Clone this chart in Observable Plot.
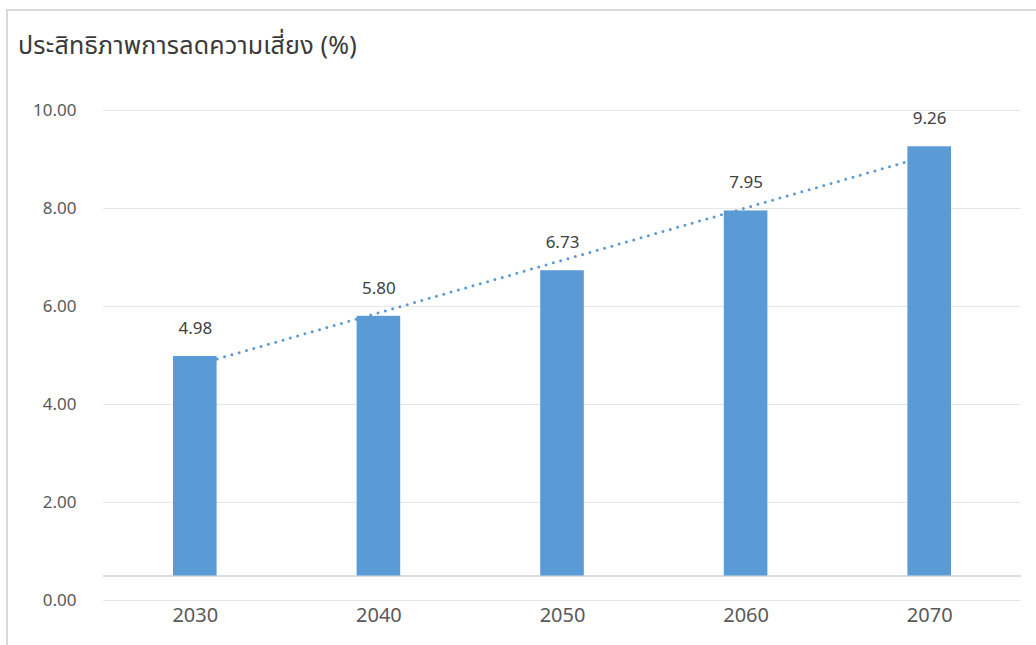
<!DOCTYPE html>
<html>
<head>
<meta charset="utf-8">
<script src="https://cdn.jsdelivr.net/npm/d3@7"></script>
<script src="https://cdn.jsdelivr.net/npm/@observablehq/plot@0.6"></script>
<style>
  html, body { margin: 0; padding: 0; background: #fff; }
  body { width: 1036px; height: 645px; overflow: hidden; position: relative; }
  #frame {
    position: absolute; left: 6px; top: 9px; right: 0; bottom: 0;
    border-left: 2px solid #d9d9d9; border-top: 2px solid #d9d9d9;
  }
  #title {
    height: 59px; box-sizing: border-box; padding-left: 10px; padding-top: 19px;
    font-family: "Noto Sans Thai", "Noto Sans", "Open Sans", sans-serif;
    font-size: 25px; line-height: 32px; color: #3a3a3a; letter-spacing: 0.2px;
  }
  #chart svg { display: block; }
</style>
</head>
<body>
<div id="frame">
  <div id="title">ประสิทธิภาพการลดความเสี่ยง (%)</div>
  <div id="chart"></div>
</div>
<script>
const years = [2030, 2040, 2050, 2060, 2070];
const values = [4.98, 5.80, 6.73, 7.95, 9.26];
const yTicks = [0, 2, 4, 6, 8, 10];
const axisCrossing = 0.5;

const data = years.map((year, i) => ({ year, value: values[i] }));
const blue = "#5b9bd5";

const chart = Plot.plot({
  width: 1028,
  height: 575,
  marginLeft: 95,
  marginRight: 15,
  marginTop: 40,
  marginBottom: 45,
  style: { fontFamily: "'Noto Sans', 'Open Sans', sans-serif", fontSize: "16px", color: "#595959", background: "#fff" },
  x: { domain: [2025, 2075], ticks: years, tickFormat: d3.format("d"), tickSize: 0, tickPadding: 8, label: null },
  y: { domain: [0, 10], ticks: yTicks, tickFormat: d3.format(".2f"), tickSize: 0, tickPadding: 27, label: null },
  marks: [
    Plot.gridY(yTicks, { stroke: "#e6e6e6", strokeOpacity: 1, strokeWidth: 1.2 }),
    Plot.ruleY([axisCrossing], { stroke: "#d0d0d0", strokeWidth: 1.5 }),
    Plot.linearRegressionY(data, {
      x: "year", y: "value", ci: 0,
      stroke: blue, strokeWidth: 3, strokeDasharray: "0 7.6", strokeLinecap: "round"
    }),
    Plot.rectY(data, {
      x1: d => d.year - 5, x2: d => d.year + 5,
      y1: axisCrossing, y2: "value",
      fill: blue, insetLeft: 70, insetRight: 70
    }),
    Plot.text(data, {
      x: "year", y: "value", text: d => d3.format(".2f")(d.value),
      dy: -28, fill: "#404040", fontSize: 17
    }),
    Plot.axisY({ ticks: yTicks, tickFormat: d3.format(".2f"), tickSize: 0, tickPadding: 27, fontSize: 17, fill: "#595959" }),
    Plot.axisX({ ticks: years, tickFormat: d3.format("d"), tickSize: 0, tickPadding: 7, fontSize: 20, fill: "#595959", style: { letterSpacing: "1px" } })
  ]
});
document.getElementById("chart").appendChild(chart);
</script>
</body>
</html>
